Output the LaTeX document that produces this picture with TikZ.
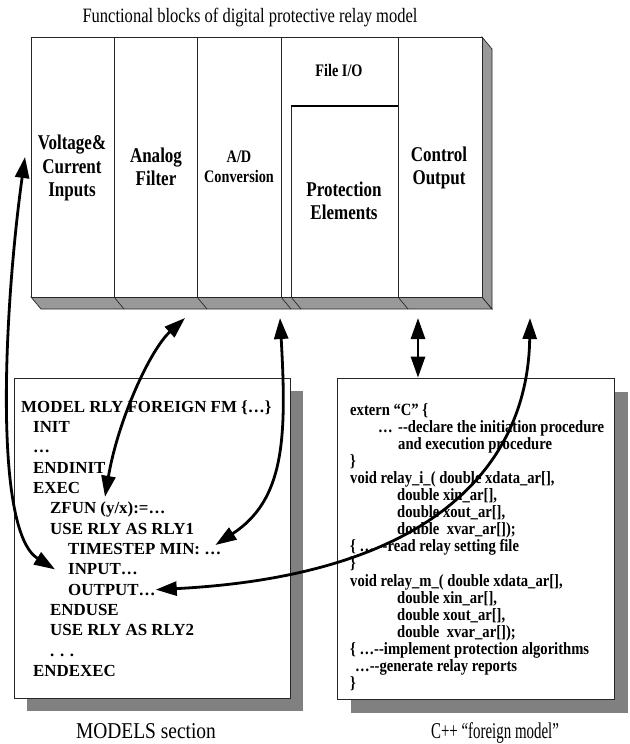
\documentclass[tikz,border=0pt]{standalone}
\usepackage{fontspec}
\setmainfont{Liberation Serif}
\newfontfamily\tallserif{Liberation Serif}[FakeStretch=0.81]
\newfontfamily\codeserif{Liberation Serif}[FakeStretch=0.85]
\newfontfamily\capwide{Liberation Serif}[FakeStretch=0.86]
\newfontfamily\capnarrow{Liberation Serif}[FakeStretch=0.66]
\usetikzlibrary{arrows.meta}
% two plain hyphens, kept apart so they do not become a dash
\newcommand\dashdash{-\kern0pt-}

\begin{document}
\begin{tikzpicture}[x=1pt,y=-1pt,
  edge/.style={draw=black!85, line width=0.7pt},
  face/.style={edge, fill=white},
  depth/.style={edge, fill=black!40},
  shadowbox/.style={fill=black!50, draw=none},
  blocklabel/.style={font=\tallserif\bfseries\fontsize{21}{23.3}\selectfont, align=center, inner sep=0pt},
  smalllabel/.style={font=\tallserif\bfseries\fontsize{17.6}{19.5}\selectfont, align=center, inner sep=0pt},
  mcode/.style={font=\bfseries\fontsize{16.9}{20}\selectfont, anchor=base west, inner sep=0pt},
  ccode/.style={font=\codeserif\bfseries\fontsize{17.2}{17}\selectfont, anchor=base west, inner sep=0pt},
  link/.style={line width=2.8pt, {Triangle[length=21pt,width=14pt]}-{Triangle[length=21pt,width=14pt]}},
]
\useasboundingbox (0,0) rectangle (629,744);

% title
\node[font=\tallserif\fontsize{20.4}{24}\selectfont, anchor=base, inner sep=0pt] (title) at (250,23)
  {Functional blocks of digital protective relay model};

% relay block with its depth
\draw[depth] (31,297) -- (482,297) -- (492,309) -- (41,309) -- cycle;
\draw[depth] (482,37) -- (492,49) -- (492,309) -- (482,297) -- cycle;
\draw[face] (31,37) rectangle (482,297);
\foreach \x in {114,197,281,398} \draw[edge] (\x,37) -- (\x,297);
\draw[edge] (291,297) -- (291,106);
\draw[line width=2pt] (291,106) -- (398,106);
\foreach \x in {114,197,281,291,398} \draw[edge] (\x,297) -- (\x+10,309);

\node[blocklabel] (vci) at (72,168) {Voltage\&\\Current\\Inputs};
\node[blocklabel] (af) at (156,166.5) {Analog\\Filter};
\node[smalllabel] (adc) at (239,167) {A/D\\Conversion};
\node[smalllabel] (fio) at (339,70) {File I/O};
\node[blocklabel] (pe) at (344,201) {Protection\\Elements};
\node[blocklabel] (co) at (439,168) {Control\\Output};

% MODELS section
\fill[shadowbox] (27,391) rectangle (303,711);
\node[face, minimum width=276pt, minimum height=320pt, inner sep=0pt] (mbox) at (152,538) {};
\foreach \i/\ind/\txt in {
  1/0/{MODEL RLY FOREIGN FM \{…\}},
  2/12/{INIT},
  3/12/{…},
  4/12/{ENDINIT},
  5/12/{EXEC},
  6/29/{ZFUN (y/x):=…},
  7/29/{USE RLY AS RLY1},
  8/47/{TIMESTEP MIN: …},
  9/47/{INPUT…},
  10/47/{OUTPUT…},
  11/29/{ENDUSE},
  12/29/{USE RLY AS RLY2},
  13/29/{. . .},
  14/12/{ENDEXEC}}
  \node[mcode] (m\i) at (21+\ind, 412+20.35*\i-20.35) {\txt};
\node[font=\capwide\fontsize{22.6}{26}\selectfont, anchor=base, inner sep=0pt] (mcap) at (146,738) {MODELS section};

% C++ foreign model
\fill[shadowbox] (351,392) rectangle (628,713);
\node[face, minimum width=277pt, minimum height=321pt, inner sep=0pt] (cbox) at (475.5,538.5) {};
\foreach \r/\x/\txt [count=\k] in {
  1/350/{extern “C” \{},
  2/378/{…},
  2/398/{\dashdash declare the initiation procedure},
  3/398/{and execution procedure},
  4/350/{\}},
  5/350/{void relay\_i\_( double xdata\_ar[],},
  6/397/{double xin\_ar[],},
  7/397/{double xout\_ar[],},
  8/397/{double\ \ xvar\_ar[]);},
  9/350/{\{ …\ \dashdash read relay setting file},
  10/350/{\}},
  11/350/{void relay\_m\_( double xdata\_ar[],},
  12/397/{double xin\_ar[],},
  13/397/{double xout\_ar[],},
  14/397/{double\ \ xvar\_ar[]);},
  15/350/{\{ …\dashdash implement protection algorithms},
  16/355/{…\dashdash generate relay reports},
  17/350/{\}}}
  \node[ccode] (c\k) at (\x, 415+17.1*\r-17.1) {\txt};
\node[font=\capnarrow\fontsize{22.6}{26}\selectfont, anchor=base, inner sep=0pt] (ccap) at (495,738) {C++ “foreign model”};

% connector ends
\coordinate (vtip) at (25,157);
\coordinate (affoot) at (185,318);
\coordinate (adfoot) at (280,318);
\coordinate (fiofoot) at (418,318);
\coordinate (cofoot) at (530,318);
\coordinate (zfun) at ([xshift=55pt,yshift=5pt]m6.north west);
\coordinate (tstip) at ([xshift=-6pt,yshift=4pt]m8.east);
\coordinate (intip) at ([xshift=-13pt]m9.west);

% connectors
\draw[link] (vtip) .. controls (5,300) and (-8,530) .. (intip);
\draw[link] (affoot) .. controls (150,350) and (118,420) .. (zfun);
\draw[link] (adfoot) .. controls (287,440) and (284,500) .. (tstip);
\draw[link] (fiofoot) -- (fiofoot |- cbox.north);
\draw[link] (cofoot) .. controls (528,460) and (440,575) .. (m10.east);
\end{tikzpicture}
\end{document}
